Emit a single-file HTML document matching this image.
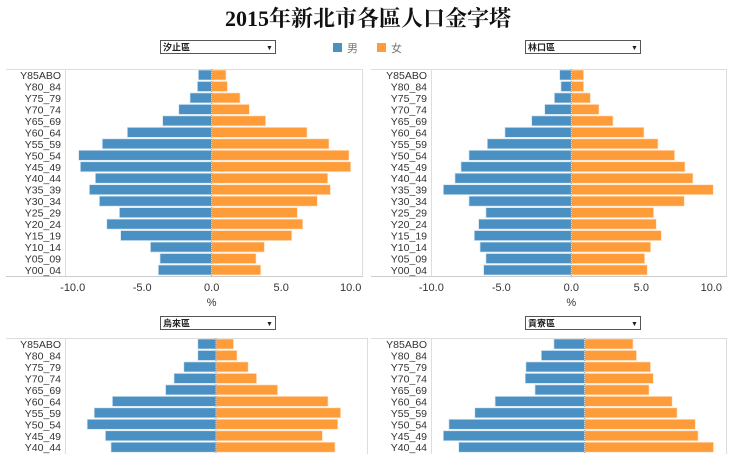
<!DOCTYPE html>
<html><head><meta charset="utf-8">
<style>
html,body{margin:0;padding:0;background:#fff;width:736px;height:454px;overflow:hidden;font-family:"Liberation Sans","Noto Sans CJK TC",sans-serif}
svg{position:absolute;left:0;top:0}
</style></head>
<body>
<svg id="c" width="736" height="454">
<text x="368" y="26" text-anchor="middle" font-family="'Liberation Serif','Noto Serif CJK SC',serif" font-weight="bold" font-size="22" fill="#111">2015年新北市各區人口金字塔</text>
<g>
<rect x="333" y="43" width="9" height="9" fill="#4a90c2"/>
<text x="347" y="52" font-size="11" fill="#777" font-family="'Liberation Sans','Noto Sans CJK TC',sans-serif">男</text>
<rect x="377" y="43" width="9" height="9" fill="#ff9c3a"/>
<text x="391" y="52" font-size="11" fill="#777" font-family="'Liberation Sans','Noto Sans CJK TC',sans-serif">女</text>
</g>
</svg>
<script>
const catsAll=["Y85ABO","Y80_84","Y75_79","Y70_74","Y65_69","Y60_64","Y55_59","Y50_54","Y45_49","Y40_44","Y35_39","Y30_34","Y25_29","Y20_24","Y15_19","Y10_14","Y05_09","Y00_04"];
const ticks=[-10,-5,0,5,10];
const tickLabels=["-10.0","-5.0","0.0","5.0","10.0"];
const xizhiMale=[0.96,1.03,1.56,2.37,3.53,6.07,7.87,9.57,9.45,8.37,8.8,8.08,6.64,7.55,6.55,4.41,3.72,3.84];
const xizhiFemale=[1.03,1.13,2.04,2.71,3.88,6.86,8.44,9.88,10.0,8.35,8.54,7.6,6.16,6.55,5.76,3.79,3.19,3.53];
const linkouMale=[0.83,0.74,1.21,1.9,2.83,4.74,6.0,7.31,7.88,8.31,9.14,7.31,6.1,6.62,6.93,6.52,6.1,6.26];
const linkouFemale=[0.88,0.88,1.36,1.98,2.98,5.19,6.19,7.38,8.12,8.69,10.14,8.07,5.88,6.07,6.43,5.67,5.24,5.43];
const wulaiMale=[1.3,1.3,2.3,3.0,3.6,7.4,8.7,9.2,7.9,7.5];
const wulaiFemale=[1.25,1.5,2.3,2.9,4.4,8.0,8.9,8.7,7.6,8.5];
const gongliaoMale=[2.2,3.1,4.2,4.25,3.55,6.4,7.85,9.7,10.1,9.0];
const gongliaoFemale=[3.45,3.7,4.7,4.9,4.6,6.25,6.6,7.9,8.1,9.2];

const svg=document.getElementById('c');
const NS='http://www.w3.org/2000/svg';
function mk(tag,attrs,parent){const e=document.createElementNS(NS,tag);for(const k in attrs)e.setAttribute(k,attrs[k]);(parent||svg).appendChild(e);return e;}

function pyramid(o){
  const g=mk('g',{});
  
  
  const x=v=>o.zero+v*o.scale;
  const y=i=>o.rowTop+i*11.47;
  // dropdown
  const dd=mk('g',{},g);
  
  
  mk('rect',{x:o.ddx+0.5,y:o.ddy+0.5,width:115,height:13,fill:'#fff',stroke:'#555','stroke-width':1},dd);
  const dt=mk('text',{x:o.ddx+3,y:o.ddy+10.5,'font-size':9,'font-weight':'bold',fill:'#222'},dd);dt.textContent=o.district;
  const da=mk('text',{x:o.ddx+106,y:o.ddy+10,'font-size':7,fill:'#222'},dd);da.textContent='▼';
  // frame
  const f=mk('g',{},g);
  
  
  mk('line',{x1:o.fx0,x2:o.fx1,y1:o.fy0+0.5,y2:o.fy0+0.5,stroke:'#ddd'},f);
  mk('line',{x1:o.lb+0.5,x2:o.lb+0.5,y1:o.fy0,y2:o.fy1,stroke:'#ddd'},f);
  mk('line',{x1:o.fx1-0.5,x2:o.fx1-0.5,y1:o.fy0,y2:o.fy1,stroke:'#ddd'},f);
  if(o.axis) mk('line',{x1:o.fx0,x2:o.fx1,y1:o.fy1-0.5,y2:o.fy1-0.5,stroke:'#ccc'},f);
  o.cats.forEach((c,i)=>{
    const cy=y(i);
    const t=mk('text',{x:o.lb-4,y:cy+4,'text-anchor':'end','font-size':10.5,fill:'#333'},g);
    t.textContent=c;
    
    
    const m=mk('rect',{x:x(-o.male[i]),y:cy-5,width:o.male[i]*o.scale,height:10,fill:'#4a90c2',stroke:'#d6e6f2','stroke-width':0.7},g);
    
    
    const fe=mk('rect',{x:x(0),y:cy-5,width:o.female[i]*o.scale,height:10,fill:'#ff9c3a',stroke:'#ffe3c7','stroke-width':0.7},g);
    
    
  });
  mk('line',{x1:x(0),x2:x(0),y1:o.fy0,y2:o.fy1,stroke:'#999','stroke-dasharray':'1,1'},g);
  if(o.axis){
    ticks.forEach((tv,i)=>{
      const t=mk('text',{x:x(tv),y:o.fy1+14,'text-anchor':'middle','font-size':11,fill:'#333'},g);
      t.textContent=tickLabels[i];
      
      
    });
    const at=mk('text',{x:x(0),y:o.fy1+29,'text-anchor':'middle','font-size':11,fill:'#333'},g);
    at.textContent='%';
    
    
  }
}
pyramid({name:'pyramid-xizhi',district:'汐止區',cats:catsAll,male:xizhiMale,female:xizhiFemale,zero:211.7,scale:13.9,rowTop:75,fx0:6,fx1:363,fy0:69,fy1:277,lb:65,ddx:160,ddy:40,axis:true});
pyramid({name:'pyramid-linkou',district:'林口區',cats:catsAll,male:linkouMale,female:linkouFemale,zero:571.3,scale:14,rowTop:75,fx0:371,fx1:727,fy0:69,fy1:277,lb:431,ddx:525,ddy:40,axis:true});
pyramid({name:'pyramid-wulai',district:'烏來區',cats:catsAll.slice(0,10),male:wulaiMale,female:wulaiFemale,zero:216,scale:14,rowTop:344,fx0:6,fx1:368,fy0:338,fy1:460,lb:65,ddx:160,ddy:316,axis:false});
pyramid({name:'pyramid-gongliao',district:'貢寮區',cats:catsAll.slice(0,10),male:gongliaoMale,female:gongliaoFemale,zero:584.7,scale:14,rowTop:344,fx0:371,fx1:727,fy0:338,fy1:460,lb:431,ddx:525,ddy:316,axis:false});
</script>
</body></html>
